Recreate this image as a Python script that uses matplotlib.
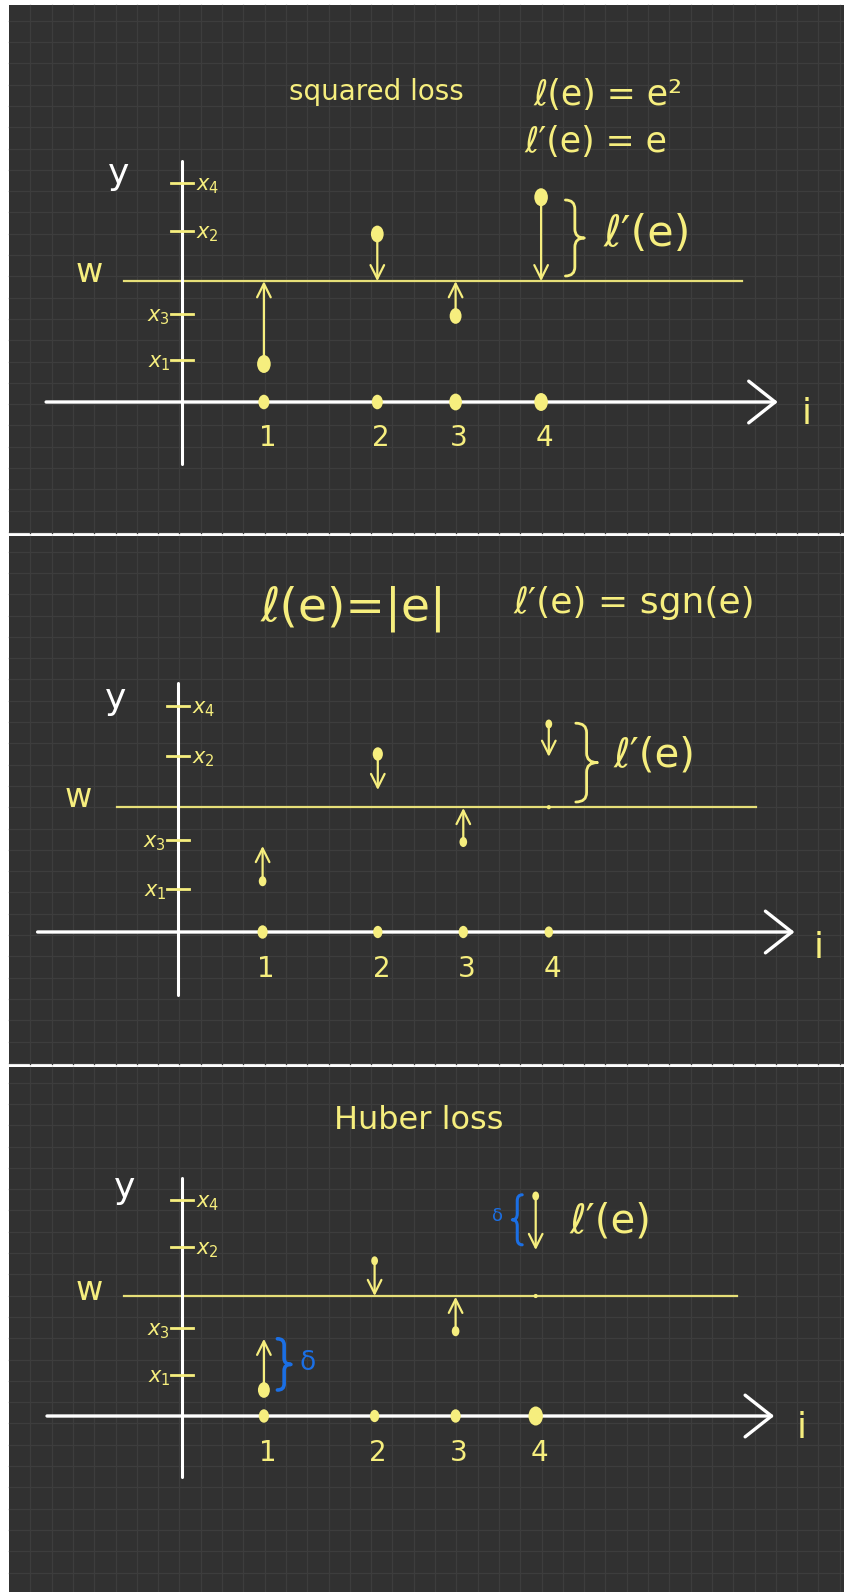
import numpy as np
import matplotlib
matplotlib.use('Agg')
import matplotlib.pyplot as plt
from matplotlib.path import Path
from matplotlib.patches import PathPatch, Rectangle
from matplotlib.markers import MarkerStyle
from matplotlib.transforms import Affine2D

# ---------------- data ----------------
index_labels = ['1', '2', '3', '4']
tick_names = ['$x_1$', '$x_2$', '$x_3$', '$x_4$']
tick_side = ['left', 'right', 'left', 'right']

# panel 1: squared loss
sq_index_x = [0.91, 2.17, 3.04, 3.99]
sq_ticks = [1.05, 4.28, 2.20, 5.48]
sq_w = 3.02
sq_points = [0.95, 4.20, 2.15, 5.12]

# panel 2: absolute loss
abs_index_x = [0.94, 2.22, 3.17, 4.12]
abs_ticks = [1.08, 4.40, 2.30, 5.65]
abs_w = 3.12
abs_start = [1.27, 4.45, 2.25, 5.20]
abs_end = [2.15, 3.55, 3.10, 4.38]

# panel 3: Huber loss
hub_index_x = [0.91, 2.14, 3.04, 3.93]
hub_ticks = [1.02, 4.22, 2.20, 5.40]
hub_w = 3.00
hub_start = [0.65, 3.88, 2.12, 5.50]
hub_end = [1.93, 3.00, 2.98, 4.15]

# ---------------- style ----------------
YEL = '#f6ee7e'
WLINE = '#e6df78'
WHITE = '#ffffff'
BLUE = '#1b6fe4'
BG = '#313131'
GRID = '#3d3d3d'

W, H = 844, 1592
LEFT = 9
UX, UY = 90.0, 40.0
panels_px = [(5, 533), (536, 1064), (1067, 1592)]
origins = [(182, 402), (178, 932), (182, 1416)]

fig = plt.figure(figsize=(W / 100, H / 100), dpi=100, facecolor='white')

# background with hand-drawn style grid paper
bg = fig.add_axes([0, 0, 1, 1])
bg.set_xlim(0, W)
bg.set_ylim(H, 0)
bg.axis('off')
for top, bot in panels_px:
    bg.add_patch(Rectangle((LEFT, top), W - LEFT, bot - top, facecolor=BG, edgecolor='none', zorder=0))
    for gx in np.arange(LEFT + 21.3, W, 21.3):
        bg.plot([gx, gx], [top, bot], color=GRID, lw=0.9, zorder=1)
    for gy in np.arange(top + 15.7, bot, 21.3):
        bg.plot([LEFT, W], [gy, gy], color=GRID, lw=0.9, zorder=1)


def panel_axes(k):
    top, bot = panels_px[k]
    ox, oy = origins[k]
    ax = fig.add_axes([LEFT / W, 1 - bot / H, (W - LEFT) / W, (bot - top) / H])
    ax.set_xlim((LEFT - ox) / UX, (W - ox) / UX)
    ax.set_ylim((oy - bot) / UY, (oy - top) / UY)
    ax.axis('off')
    ax.patch.set_alpha(0)
    return ax


def brace(ax, x, y0, y1, w, color, lw, facing='right'):
    s = 1 if facing == 'right' else -1
    ym = (y0 + y1) / 2
    d = (y1 - y0) * 0.12
    xa, xb, xc = x, x + s * w / 2, x + s * w
    verts = [(xa, y1), (xb, y1), (xb, y1 - d), (xb, ym + d), (xb, ym), (xc, ym),
             (xb, ym), (xb, ym - d), (xb, y0 + d), (xb, y0), (xa, y0)]
    codes = [Path.MOVETO, Path.CURVE3, Path.CURVE3, Path.LINETO, Path.CURVE3, Path.CURVE3,
             Path.CURVE3, Path.CURVE3, Path.LINETO, Path.CURVE3, Path.CURVE3]
    ax.add_patch(PathPatch(Path(verts, codes), facecolor='none', edgecolor=color,
                           lw=lw, capstyle='round', joinstyle='round', zorder=4))


def dot_marker():
    return MarkerStyle('o', transform=Affine2D().scale(0.85, 1.12))


def frame(ax, index_x, ticks, w, yext, xext, wext, lab):
    # y axis
    ax.plot([0, 0], yext, color=WHITE, lw=2.2, solid_capstyle='round', zorder=3)
    # x axis with open arrow head
    ax.annotate('', xy=(xext[1], 0), xytext=(xext[0], 0),
                arrowprops=dict(arrowstyle='->,head_length=0.95,head_width=0.75',
                                color=WHITE, lw=2.4, shrinkA=0, shrinkB=0,
                                mutation_scale=20), zorder=3)
    # w line
    ax.plot(wext, [w, w], color=WLINE, lw=1.6, zorder=2)
    # ticks on the y axis
    for t, name, side in zip(ticks, tick_names, tick_side):
        ax.plot([-0.12, 0.12], [t, t], color=YEL, lw=2.0, zorder=3)
        if side == 'right':
            ax.text(0.16, t - 0.08, name, color=YEL, fontsize=15, ha='left', va='center')
        else:
            ax.text(-0.13, t - 0.08, name, color=YEL, fontsize=15, ha='right', va='center')
    # index labels
    for xi, s in zip(index_x, index_labels):
        ax.text(xi + 0.04, lab['num_y'], s, color=YEL, fontsize=20, ha='center', va='center')
    ax.text(*lab['y'], 'y', color=WHITE, fontsize=26, ha='center', va='center')
    ax.text(*lab['w'], 'w', color=YEL, fontsize=24, ha='center', va='center')
    ax.text(*lab['i'], 'i', color=YEL, fontsize=26, ha='center', va='center')


def axis_dots(ax, index_x, diam_px):
    ax.scatter(index_x, np.zeros(len(index_x)), s=(np.array(diam_px) * 0.72) ** 2,
               marker=dot_marker(), color=YEL, edgecolors='none', zorder=5)


def arrows(ax, index_x, start, end):
    for xi, a, b in zip(index_x, start, end):
        ax.annotate('', xy=(xi, b), xytext=(xi, a),
                    arrowprops=dict(arrowstyle='->,head_length=0.7,head_width=0.35',
                                    color=YEL, lw=1.6, shrinkA=0, shrinkB=0,
                                    mutation_scale=14), zorder=4)


# ---------------- panel 1: squared loss ----------------
ax1 = panel_axes(0)
frame(ax1, sq_index_x, sq_ticks, sq_w, [-1.55, 6.02], [-1.51, 6.62], [-0.64, 6.22],
      dict(num_y=-0.9, y=(-0.71, 5.7), w=(-1.03, 3.25), i=(6.94, -0.3)))
arrows(ax1, sq_index_x, sq_points, [sq_w] * len(sq_points))
ax1.scatter(sq_index_x, sq_points, s=(np.array([16, 15, 14, 16]) * 0.72) ** 2,
            marker=dot_marker(), color=YEL, edgecolors='none', zorder=6)
axis_dots(ax1, sq_index_x, [13, 13, 15, 16])
brace(ax1, 4.26, 3.15, 5.05, 0.21, YEL, 2.0, 'right')
ax1.text(4.68, 4.2, 'ℓ′(e)', color=YEL, fontsize=31, ha='left', va='center')
ax1.text(2.16, 7.55, 'squared loss', color=YEL, fontsize=20, ha='center', va='baseline')
ax1.text(3.9, 7.43, 'ℓ(e) = e²', color=YEL, fontsize=25, ha='left', va='baseline')
ax1.text(3.81, 6.25, 'ℓ′(e) = e', color=YEL, fontsize=25, ha='left', va='baseline')

# ---------------- panel 2: absolute loss ----------------
ax2 = panel_axes(1)
frame(ax2, abs_index_x, abs_ticks, abs_w, [-1.58, 6.22], [-1.56, 6.85], [-0.68, 6.42],
      dict(num_y=-0.92, y=(-0.69, 5.83), w=(-1.11, 3.37), i=(7.12, -0.4)))
arrows(ax2, abs_index_x, abs_start, abs_end)
ax2.scatter(abs_index_x, abs_start, s=(np.array([9, 12, 9, 8]) * 0.72) ** 2,
            marker=dot_marker(), color=YEL, edgecolors='none', zorder=6)
ax2.scatter([abs_index_x[3]], [abs_w], s=9, color=YEL, edgecolors='none', zorder=6)
axis_dots(ax2, abs_index_x, [12, 11, 11, 10])
brace(ax2, 4.42, 3.25, 5.22, 0.24, YEL, 2.0, 'right')
ax2.text(4.84, 4.42, 'ℓ′(e)', color=YEL, fontsize=29, ha='left', va='center')
ax2.text(0.92, 7.8, 'ℓ(e)=|e|', color=YEL, fontsize=34, ha='left', va='baseline')
ax2.text(3.73, 7.98, 'ℓ′(e) = sgn(e)', color=YEL, fontsize=26, ha='left', va='baseline')

# ---------------- panel 3: Huber loss ----------------
ax3 = panel_axes(2)
frame(ax3, hub_index_x, hub_ticks, hub_w, [-1.52, 5.95], [-1.5, 6.58], [-0.64, 6.17],
      dict(num_y=-0.92, y=(-0.64, 5.7), w=(-1.03, 3.15), i=(6.89, -0.3)))
arrows(ax3, hub_index_x, hub_start, hub_end)
ax3.scatter(hub_index_x, hub_start, s=(np.array([14, 8, 9, 8]) * 0.72) ** 2,
            marker=dot_marker(), color=YEL, edgecolors='none', zorder=6)
ax3.scatter([hub_index_x[3]], [hub_w], s=9, color=YEL, edgecolors='none', zorder=6)
axis_dots(ax3, hub_index_x, [12, 11, 12, 17])
brace(ax3, 1.06, 0.65, 1.93, 0.15, BLUE, 2.6, 'right')
ax3.text(1.40, 1.32, 'δ', color=BLUE, fontsize=19, ha='center', va='center')
brace(ax3, 3.78, 4.28, 5.53, 0.11, BLUE, 2.2, 'left')
ax3.text(3.50, 5.0, 'δ', color=BLUE, fontsize=13, ha='center', va='center')
ax3.text(4.31, 4.87, 'ℓ′(e)', color=YEL, fontsize=29, ha='left', va='center')
ax3.text(1.69, 7.18, 'Huber loss', color=YEL, fontsize=23, ha='left', va='baseline')

fig.savefig('out.png', dpi=100, facecolor='white')
